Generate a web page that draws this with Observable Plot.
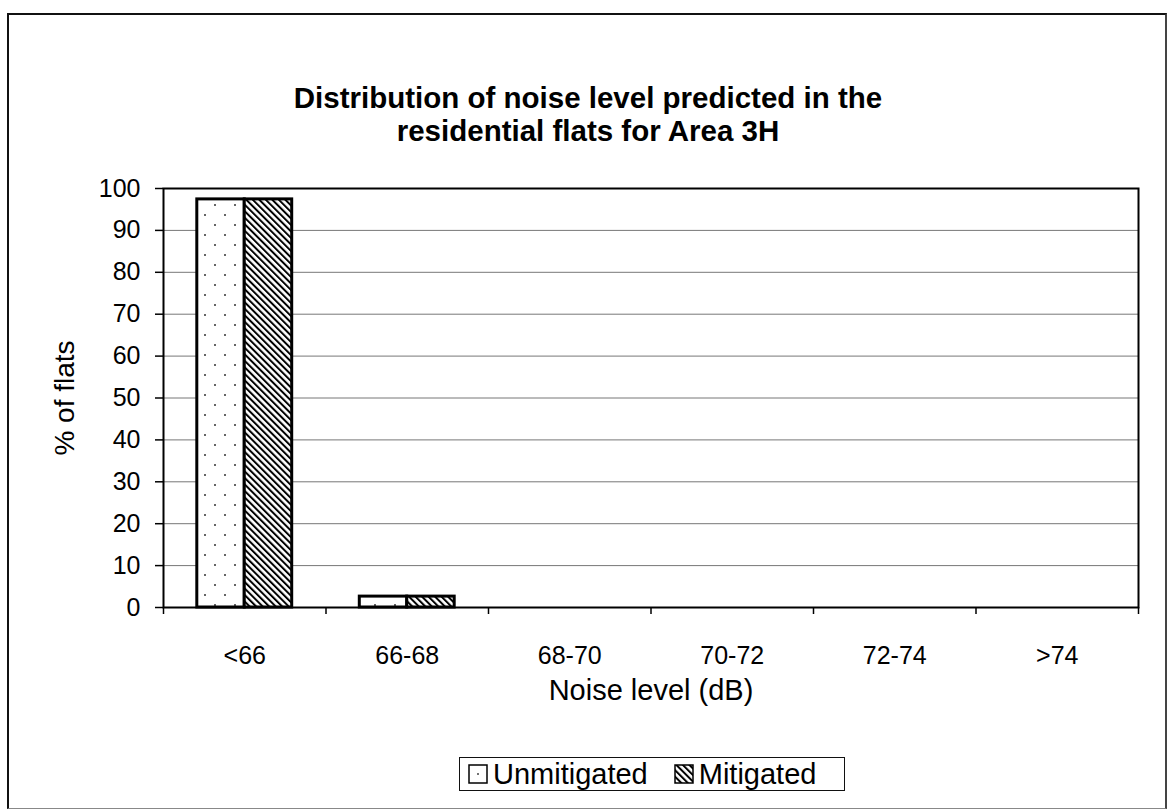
<!DOCTYPE html>
<html>
<head>
<meta charset="utf-8">
<script src="https://cdn.jsdelivr.net/npm/d3@7"></script>
<script src="https://cdn.jsdelivr.net/npm/@observablehq/plot@0.6"></script>
<style>
  html, body { margin: 0; padding: 0; background: #fff; }
  body { width: 1176px; height: 809px; position: relative; overflow: hidden;
         font-family: "Liberation Sans", Arial, Helvetica, sans-serif; color: #000; }
  #frame { position: absolute; left: 7px; top: 13px; width: 1160px; height: 796px;
           border-left: 2px solid #111; border-top: 2px solid #111; border-right: 2px solid #444;
           border-bottom: 1px solid #888; box-sizing: border-box; }
  #title { position: absolute; left: 0; width: 1176px; top: 81px; text-align: center;
           font-weight: bold; font-size: 29.5px; line-height: 33px; }
  #chart { position: absolute; left: 0; top: 150px; }
  #legend { position: absolute; left: 459px; top: 757px; width: 386px; height: 34px;
            border: 1.5px solid #111; box-sizing: border-box; display: flex; align-items: center;
            padding-left: 8px; font-size: 29px; }
  .item { display: flex; align-items: center; margin-right: 26px; }
  .item svg { margin-right: 5px; }
</style>
</head>
<body>
<svg width="0" height="0" style="position:absolute">
  <defs>
    <pattern id="dots" patternUnits="userSpaceOnUse" width="20" height="20">
      <rect width="20" height="20" fill="#fff"/>
      <circle cx="5" cy="5" r="1" fill="#333"/>
      <circle cx="15" cy="15" r="1" fill="#333"/>
    </pattern>
    <pattern id="hatch" patternUnits="userSpaceOnUse" width="4.6" height="4.6" patternTransform="rotate(-45)">
      <rect width="4.6" height="4.6" fill="#fff"/>
      <line x1="1" y1="0" x2="1" y2="4.6" stroke="#000" stroke-width="2"/>
    </pattern>
  </defs>
</svg>
<div id="frame"></div>
<div id="title">Distribution of noise level predicted in the<br>residential flats for Area 3H</div>
<div id="chart"></div>
<div id="legend">
  <div class="item"><svg width="20" height="20"><rect x="1" y="1" width="18" height="18" fill="#fff" stroke="#000" stroke-width="1.5"/><circle cx="10" cy="10" r="1" fill="#444"/></svg>Unmitigated</div>
  <div class="item"><svg width="20" height="20"><rect x="1" y="1" width="18" height="18" fill="url(#hatch)" stroke="#000" stroke-width="1.5"/></svg>Mitigated</div>
</div>
<script>
// ---- data ----
const categories = ["<66", "66-68", "68-70", "70-72", "72-74", ">74"];
const series = ["Unmitigated", "Mitigated"];
const unmitigated = [97.4, 2.6, 0, 0, 0, 0];
const mitigated = [97.4, 2.6, 0, 0, 0, 0];
const yTicks = [0, 10, 20, 30, 40, 50, 60, 70, 80, 90, 100];
const xLabel = "Noise level (dB)";
const yLabel = "% of flats";

// table built from the arrays
const barWidth = 0.292; // in category units
const rows = categories.flatMap((c, i) => [
  {cat: c, i, series: series[0], value: unmitigated[i], x1: i - barWidth, x2: i},
  {cat: c, i, series: series[1], value: mitigated[i], x1: i, x2: i + barWidth}
]);
const centers = categories.map((c, i) => i);
const boundaries = d3.range(categories.length + 1).map(k => k - 0.5);

const chart = Plot.plot({
  width: 1176,
  height: 590,
  marginTop: 38,
  marginBottom: 133,
  marginLeft: 163,
  marginRight: 38,
  style: {fontFamily: '"Liberation Sans", Arial, sans-serif', color: "#000", background: "transparent", overflow: "visible"},
  x: {type: "linear", domain: [-0.5, categories.length - 0.5]},
  y: {domain: [0, 100]},
  color: {type: "ordinal", domain: series, range: ["url(#dots)", "url(#hatch)"]},
  marks: [
    Plot.gridY(yTicks, {stroke: "#777", strokeOpacity: 1, strokeWidth: 1}),
    Plot.rect(rows, {x1: "x1", x2: "x2", y1: 0, y2: "value", fill: "series", stroke: "#000", strokeWidth: 3}),
    Plot.frame({stroke: "#000", strokeWidth: 2}),
    Plot.axisY({ticks: yTicks, tickSize: 8, tickPadding: 15, fontSize: 25, label: null, strokeWidth: 1.5}),
    Plot.axisY({ticks: [], label: yLabel, labelArrow: "none", labelAnchor: "center", labelOffset: 109, fontSize: 28}),
    Plot.axisX({ticks: boundaries, tickSize: 7, tickFormat: () => "", label: null, strokeWidth: 1.5}),
    Plot.axisX({ticks: centers, tickSize: 0, tickPadding: 39, tickFormat: i => categories[i], fontSize: 25, label: null}),
    Plot.axisX({ticks: [], label: xLabel, labelArrow: "none", labelAnchor: "center", labelOffset: 92, fontSize: 29})
  ]
});
document.getElementById("chart").appendChild(chart);
</script>
</body>
</html>
